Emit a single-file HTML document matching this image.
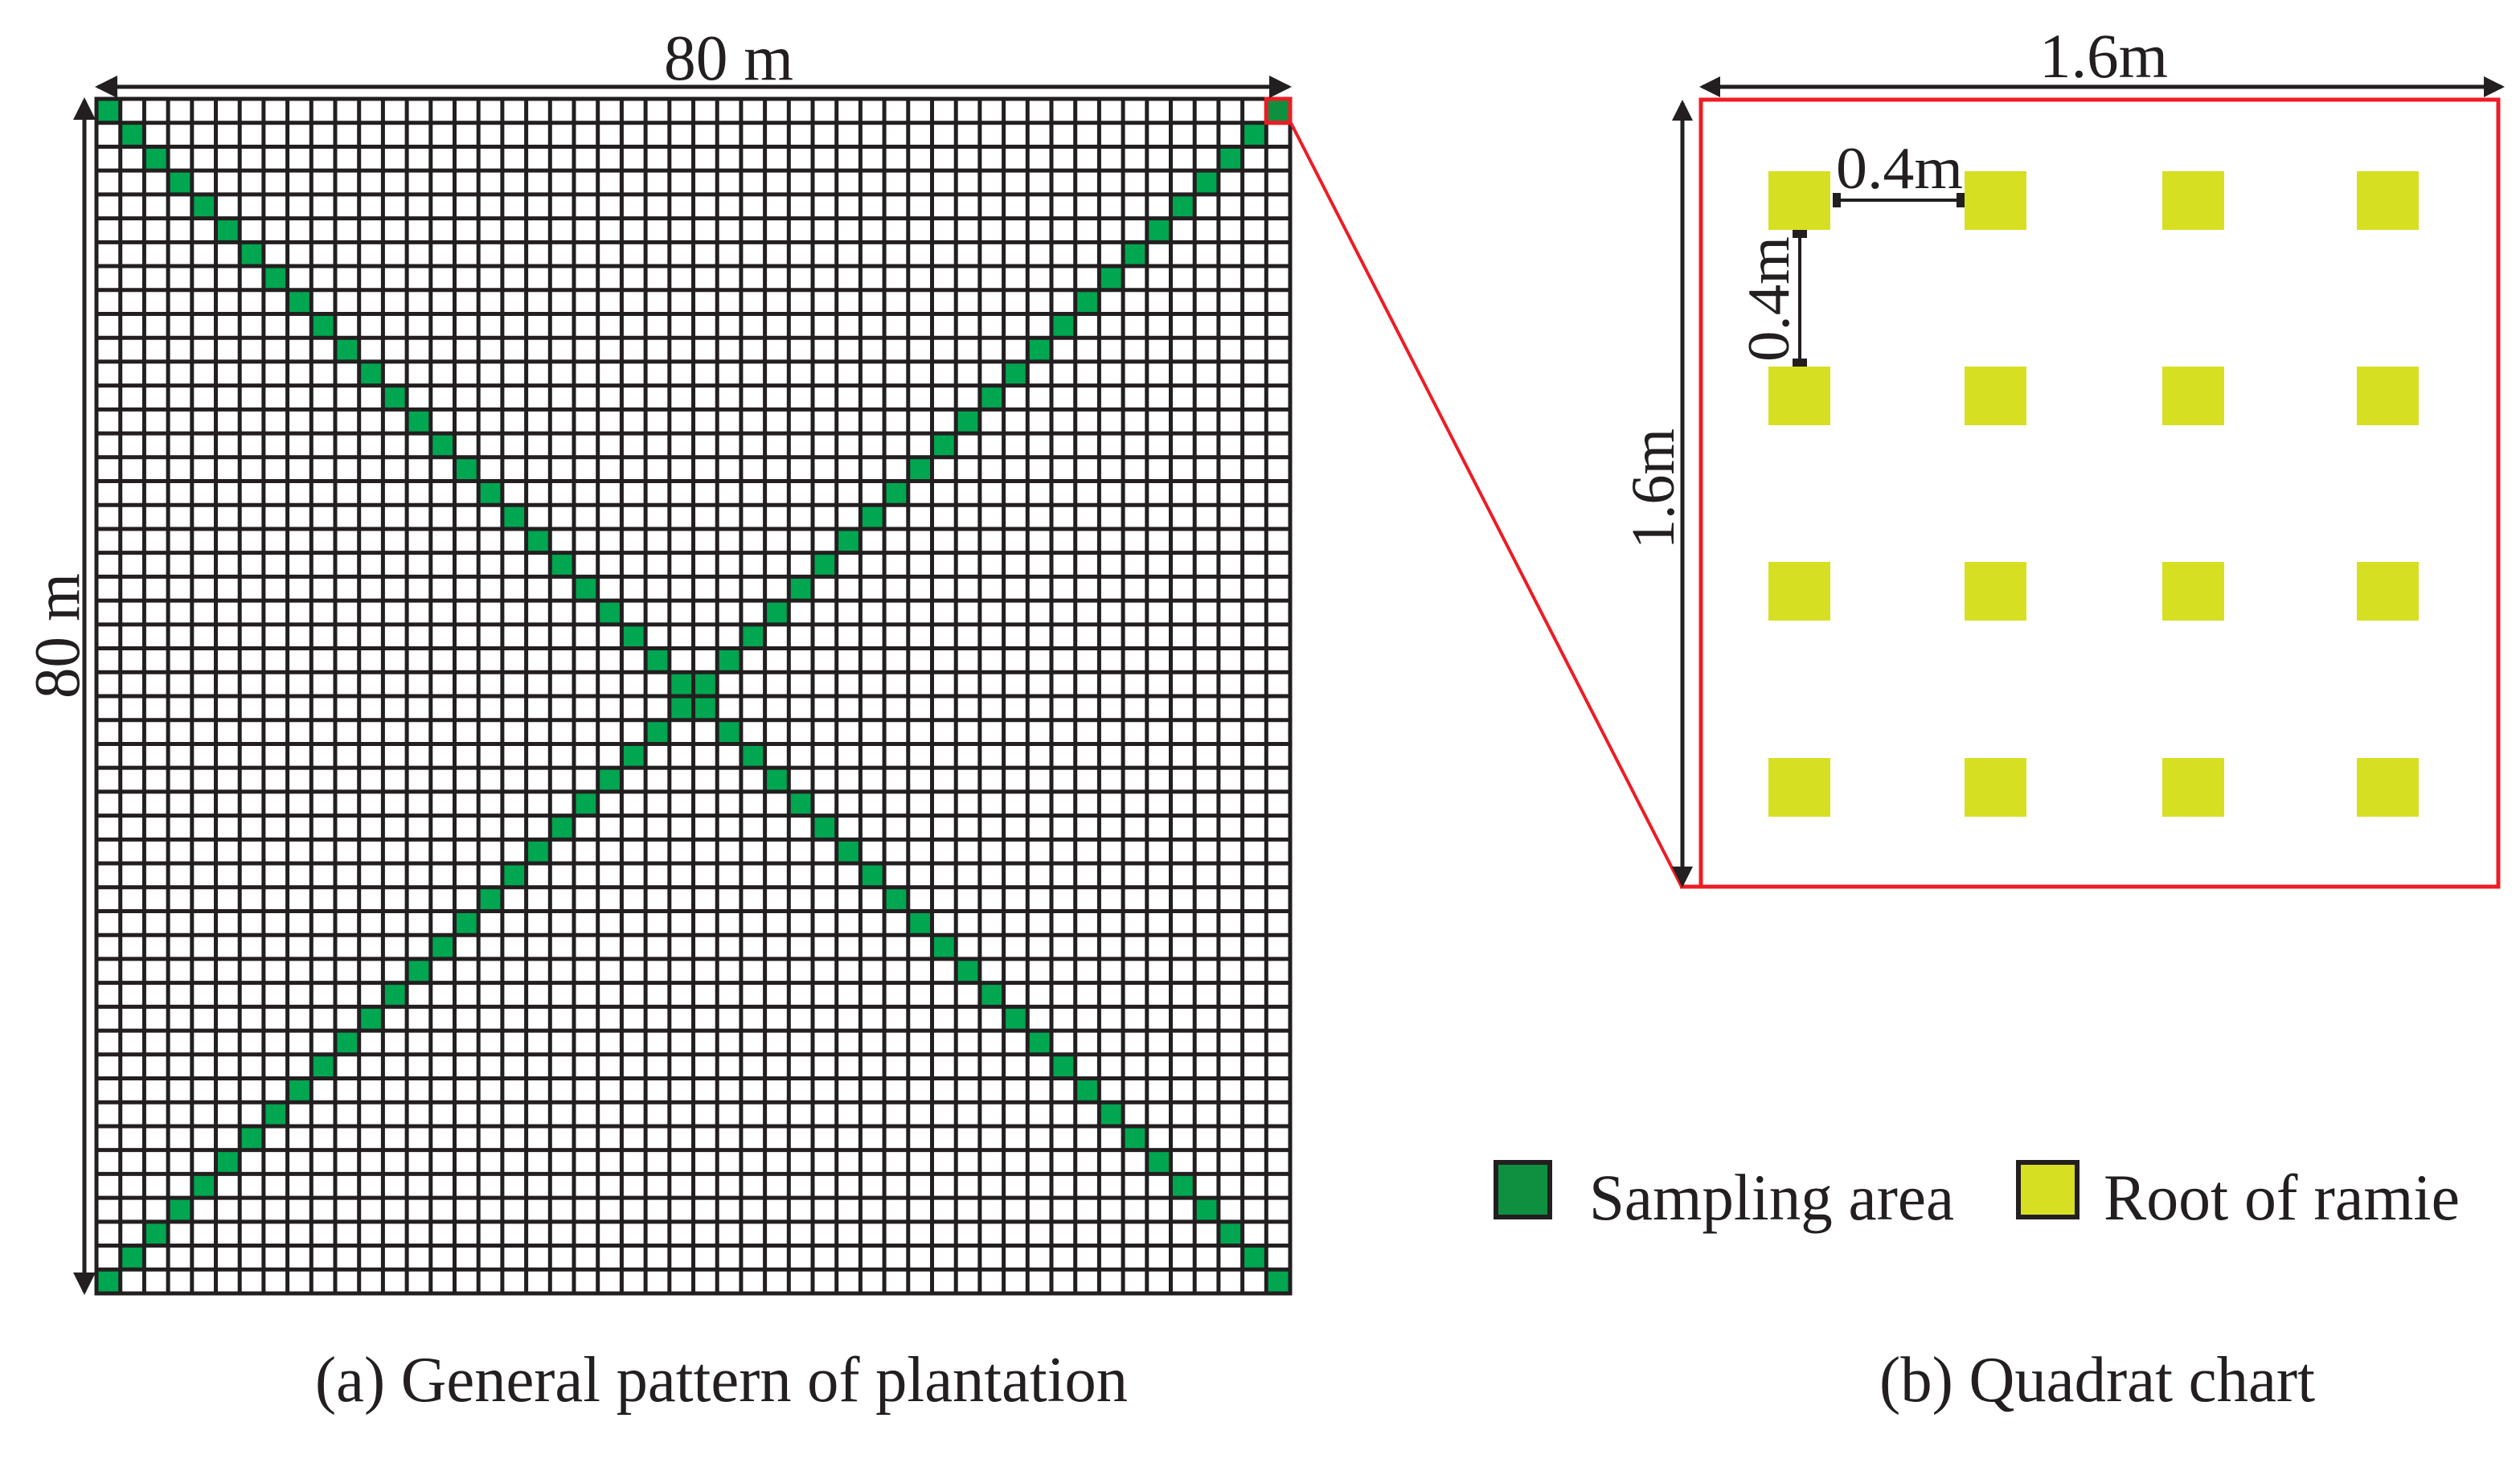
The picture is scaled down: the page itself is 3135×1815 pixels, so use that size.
<!DOCTYPE html>
<html><head><meta charset="utf-8"><style>
html,body{margin:0;padding:0;background:#fff;}
svg{display:block;}
text{font-family:"Liberation Serif",serif;fill:#231f20;}
</style></head><body>
<svg id="s" width="3135" height="1815" viewBox="0 0 3135 1815" xmlns="http://www.w3.org/2000/svg">
<rect width="3135" height="1815" fill="#fff"/>
<g id="green"></g>
<g id="grid" stroke="#231f20" stroke-width="5"></g>
<rect x="1575.3" y="123" width="29.7" height="29.7" fill="#0e9040" stroke="#ed1c24" stroke-width="5"/>
<line x1="1606" y1="153" x2="2092" y2="1103" stroke="#ed1c24" stroke-width="4"/>
<g stroke="#231f20" stroke-width="5" fill="#231f20">
<line x1="122" y1="108" x2="1603" y2="108"/>
<line x1="105" y1="125" x2="105" y2="1607"/>
</g>
<g fill="#231f20">
<polygon points="118,108 146,94 146,122"/>
<polygon points="1607,108 1579,94 1579,122"/>
<polygon points="105,121 91,149 119,149"/>
<polygon points="105,1611 91,1583 119,1583"/>
</g>
<text x="826" y="99" font-size="80" textLength="161" lengthAdjust="spacingAndGlyphs">80 m</text>
<text transform="translate(98,791) rotate(-90)" x="-78" y="0" font-size="80" textLength="156" lengthAdjust="spacingAndGlyphs">80 m</text>

<rect x="2116" y="124" width="992" height="979" fill="none" stroke="#ed1c24" stroke-width="5"/>
<line x1="2090" y1="1103" x2="2116" y2="1103" stroke="#ed1c24" stroke-width="5"/>
<g stroke="#231f20" stroke-width="5">
<line x1="2118" y1="108" x2="3112" y2="108"/>
<line x1="2093" y1="128" x2="2093" y2="1099"/>
<line x1="2282" y1="249" x2="2442" y2="249" stroke-width="4"/>
<line x1="2239" y1="288" x2="2239" y2="454" stroke-width="4"/>
</g>
<g fill="#231f20">
<polygon points="2114,108 2140,95 2140,121"/>
<polygon points="3116,108 3090,95 3090,121"/>
<polygon points="2093,124 2080,150 2106,150"/>
<polygon points="2093,1104 2080,1078 2106,1078"/>
<rect x="2280" y="240" width="10" height="18"/>
<rect x="2434" y="240" width="10" height="18"/>
<rect x="2230" y="286" width="18" height="10"/>
<rect x="2230" y="446" width="18" height="10"/>
</g>
<g id="yellow" fill="#d7df23"></g>
<text x="2537" y="96" font-size="78" textLength="160" lengthAdjust="spacingAndGlyphs">1.6m</text>
<text x="2284" y="234" font-size="74" textLength="158" lengthAdjust="spacingAndGlyphs">0.4m</text>
<text transform="translate(2225,372) rotate(-90)" x="-78" y="0" font-size="74" textLength="156" lengthAdjust="spacingAndGlyphs">0.4m</text>
<text transform="translate(2082,608) rotate(-90)" x="-75" y="0" font-size="76" textLength="150" lengthAdjust="spacingAndGlyphs">1.6m</text>

<rect x="1861" y="1446" width="67" height="68" fill="#0e9040" stroke="#231f20" stroke-width="6"/>
<text x="1977" y="1517" font-size="82" textLength="454" lengthAdjust="spacingAndGlyphs">Sampling area</text>
<rect x="2511" y="1446" width="73" height="68" fill="#d7df23" stroke="#231f20" stroke-width="6"/>
<text x="2617" y="1517" font-size="82" textLength="443" lengthAdjust="spacingAndGlyphs">Root of ramie</text>

<text x="392" y="1743" font-size="80" textLength="1011" lengthAdjust="spacingAndGlyphs">(a) General pattern of plantation</text>
<text x="2338" y="1743" font-size="80" textLength="542" lengthAdjust="spacingAndGlyphs">(b) Quadrat chart</text>
</svg>
<script>
(function(){
var NS="http://www.w3.org/2000/svg";
var x0=120,y0=123,x1=1605,y1=1609,n=50;
var cw=(x1-x0)/n,ch=(y1-y0)/n;
var g=document.getElementById("green"),gr=document.getElementById("grid"),y=document.getElementById("yellow");
function el(t,a,p){var e=document.createElementNS(NS,t);for(var k in a)e.setAttribute(k,a[k]);p.appendChild(e);}
for(var i=0;i<n;i++){
 [[i,i],[n-1-i,i]].forEach(function(c){
  if(c[0]==n-1&&c[1]==0)return;
  el("rect",{x:x0+c[0]*cw,y:y0+c[1]*ch,width:cw,height:ch,fill:"#00a650"},g);
 });
}
for(var k=0;k<=n;k++){
 var xx=x0+k*cw,yy=y0+k*ch;
 el("line",{x1:xx,y1:y0-2.5,x2:xx,y2:y1+2.5},gr);
 el("line",{x1:x0-2.5,y1:yy,x2:x1+2.5,y2:yy},gr);
}
var cx=[2200,2444,2690,2932],cy=[213,456,699,943];
cx.forEach(function(a){cy.forEach(function(b){el("rect",{x:a,y:b,width:77,height:73},y);});});
})();
</script>
</body></html>
